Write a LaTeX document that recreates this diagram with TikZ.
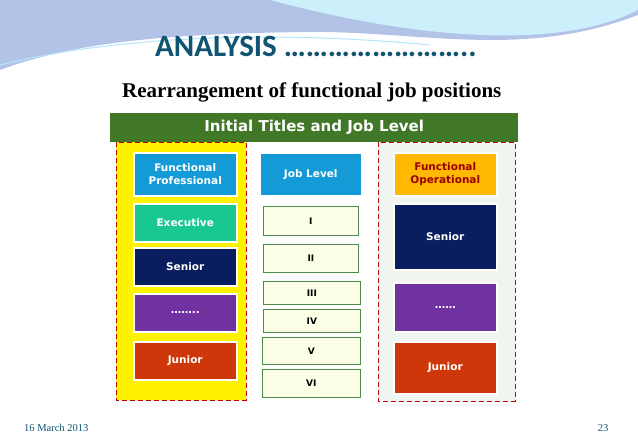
\documentclass[tikz,border=0pt]{standalone}
\usepackage{fontspec}
\setmainfont{Liberation Serif}
\newfontfamily\boxfont{DejaVu Sans}
\newfontfamily\titfont{Carlito}
\definecolor{cblue}{RGB}{20,155,215}
\definecolor{cgreen}{RGB}{25,200,145}
\definecolor{cnavy}{RGB}{10,30,95}
\definecolor{cviolet}{RGB}{112,50,160}
\definecolor{cred}{RGB}{205,55,10}
\definecolor{corange}{RGB}{255,185,0}
\definecolor{chead}{RGB}{65,120,40}
\definecolor{ctitle}{RGB}{15,85,115}
\begin{document}
\begin{tikzpicture}[x=1pt,y=-1pt,
  bx/.style={draw=white,line width=1.5pt,font=\boxfont\bfseries\fontsize{10.5}{13.5}\selectfont,align=center,text=white,inner sep=0pt,anchor=north west},
  lv/.style={draw=green!35!black!70,line width=0.7pt,fill=green!12!yellow!10,font=\boxfont\bfseries\fontsize{9}{10}\selectfont,inner sep=0pt,anchor=north west},
  dsh/.style={draw=red!75!black,line width=1pt,dash pattern=on 5pt off 3pt}]
\useasboundingbox (0,0) rectangle (638,442);
\fill[white] (0,0) rectangle (638,442);
% background swoosh
\fill[cyan!45!blue!30] (0,0) -- (638,0) -- (638,15) .. controls (520,60) and (420,30) .. (300,32) .. controls (180,34) and (80,40) .. (0,70) -- cycle;
\fill[cyan!20] (270,0) -- (638,0) -- (638,10) .. controls (560,50) and (420,40) .. (270,0) -- cycle;
\draw[cyan!30,line width=1pt] (0,65) .. controls (100,40) and (250,28) .. (430,45);
\node[font=\titfont\bfseries\fontsize{31}{33}\selectfont,text=ctitle,anchor=west,inner sep=0pt] (title) at (155,46) {ANALYSIS \ldots\ldots\ldots\ldots\ldots\ldots\ldots\ldots..};
\node[font=\bfseries\fontsize{21}{23}\selectfont,anchor=west,inner sep=0pt] (sub) at (122,92) {Rearrangement of functional job positions};
% panels
\fill[yellow] (116,142) rectangle (246,400);
\fill[green!20!gray!10] (378,142) rectangle (515,401);
\draw[dsh] (116,142) rectangle (246,400);
\draw[dsh] (378,142) rectangle (515,401);
\node[fill=chead,minimum width=408pt,minimum height=29pt,anchor=north west,inner sep=0pt,text=white,font=\boxfont\bfseries\fontsize{15}{18}\selectfont] (head) at (110,113) {Initial Titles and Job Level};
% left column
\node[bx,fill=cblue,minimum width=103pt,minimum height=43pt] (fp) at (133,152) {Functional\\Professional};
\node[bx,fill=cgreen,minimum width=103pt,minimum height=38pt] (ex) at (133,203) {Executive};
\node[bx,fill=cnavy,minimum width=103pt,minimum height=38pt] (sl) at (133,247) {Senior};
\node[bx,fill=cviolet,minimum width=103pt,minimum height=38pt] (dl) at (133,293) {\ldots\ldots..};
\node[bx,fill=cred,minimum width=103pt,minimum height=38pt] (jl) at (133,341) {Junior};
% middle
\node[bx,fill=cblue,minimum width=102pt,minimum height=43pt] (jlv) at (259,152) {Job Level};
\node[lv,minimum width=95pt,minimum height=29pt] (l1) at (263,206) {I};
\node[lv,minimum width=95pt,minimum height=28pt] (l2) at (263,244) {II};
\node[lv,minimum width=97pt,minimum height=23pt] (l3) at (263,281) {III};
\node[lv,minimum width=97pt,minimum height=23pt] (l4) at (263,309) {IV};
\node[lv,minimum width=98pt,minimum height=27pt] (l5) at (262,337) {V};
\node[lv,minimum width=98pt,minimum height=28pt] (l6) at (262,369) {VI};
% right column
\node[bx,fill=corange,text=red!60!black,minimum width=103pt,minimum height=43pt] (fo) at (393,152) {Functional\\Operational};
\node[bx,fill=cnavy,minimum width=103pt,minimum height=66pt] (sr) at (393,203) {Senior};
\node[bx,fill=cviolet,minimum width=103pt,minimum height=49pt] (dr) at (393,282) {\ldots\ldots};
\node[bx,fill=cred,minimum width=103pt,minimum height=52pt] (jr) at (393,341) {Junior};
% footer
\node[font=\fontsize{10.5}{12}\selectfont,text=ctitle,anchor=west,inner sep=0pt] (date) at (24,428) {16 March 2013};
\node[font=\fontsize{10.5}{12}\selectfont,text=ctitle,inner sep=0pt] (pg) at (603,428) {23};
\end{tikzpicture}
\end{document}
